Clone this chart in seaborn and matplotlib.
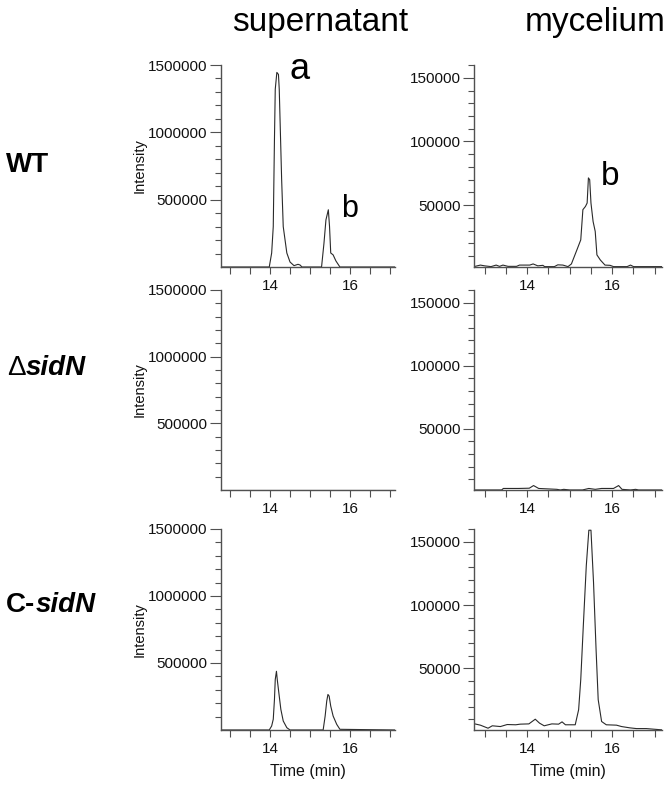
import numpy as np
import pandas as pd
import matplotlib
matplotlib.use("Agg")
import matplotlib.pyplot as plt
import seaborn as sns

# retention time (min) and intensity
wt_sup_time = [12.77, 13.98, 14.04, 14.08, 14.11, 14.13, 14.17, 14.21, 14.23, 14.29,
               14.33, 14.42, 14.50, 14.60, 14.70, 14.75, 14.80, 15.29, 15.35, 15.40,
               15.46, 15.49, 15.52, 15.58, 15.65, 15.75, 17.13]
wt_sup_int = [0, 0, 104000, 300000, 948000, 1320000, 1445000, 1430000, 1320000, 650000,
              300000, 104000, 37000, 10000, 20000, 15000, 0, 0, 175000, 350000,
              425000, 300000, 104000, 90000, 45000, 0, 0]

wt_myc_time = [12.75, 12.90, 13.00, 13.15, 13.27, 13.35, 13.43, 13.55, 13.75, 13.82,
               14.06, 14.14, 14.25, 14.37, 14.41, 14.64, 14.72, 14.84, 14.96, 15.04,
               15.17, 15.26, 15.31, 15.37, 15.41, 15.44, 15.47, 15.50, 15.55, 15.60,
               15.64, 15.72, 15.83, 15.95, 16.03, 16.35, 16.43, 16.50, 17.17]
wt_myc_int = [1800, 3000, 2400, 1800, 3000, 2000, 3000, 2000, 2000, 3000,
              3000, 3900, 2400, 2800, 1800, 1800, 3200, 3000, 1800, 3900,
              15000, 22800, 46500, 49000, 51700, 71400, 70000, 51700, 37200, 29400,
              11000, 7000, 3000, 2800, 1800, 1800, 3000, 1800, 1800]

ko_sup_time = [12.77, 14.0, 15.0, 16.0, 17.13]
ko_sup_int = [0, 0, 0, 0, 0]

ko_myc_time = [12.75, 13.40, 13.44, 13.80, 14.05, 14.15, 14.27, 14.70, 14.78, 14.86,
               15.00, 15.30, 15.45, 15.60, 15.75, 16.03, 16.15, 16.23, 16.43, 16.55,
               16.62, 17.17]
ko_myc_int = [1500, 1500, 2700, 2700, 2900, 5000, 2700, 2000, 1500, 2000,
              1500, 1500, 2700, 2000, 2700, 2700, 5000, 2000, 1500, 2000,
              1500, 1500]

c_sup_time = [12.77, 13.98, 14.04, 14.08, 14.11, 14.13, 14.16, 14.18, 14.22, 14.27,
              14.33, 14.42, 14.50, 15.33, 15.38, 15.42, 15.45, 15.48, 15.52, 15.58,
              15.67, 15.75, 17.13]
c_sup_int = [0, 0, 30000, 80000, 228000, 377000, 438000, 377000, 277000, 154000,
             67000, 17000, 0, 0, 104000, 216000, 265000, 253000, 178000, 104000,
             42000, 5000, 0]

c_myc_time = [12.77, 12.90, 13.08, 13.18, 13.37, 13.53, 13.73, 13.84, 14.04, 14.19,
              14.29, 14.40, 14.58, 14.74, 14.82, 14.90, 15.13, 15.21, 15.26, 15.32,
              15.39, 15.45, 15.50, 15.56, 15.62, 15.67, 15.75, 15.86, 16.10, 16.22,
              16.41, 16.57, 16.80, 17.17]
c_myc_int = [6300, 5300, 2900, 4800, 4200, 5800, 5600, 6100, 6300, 10000,
             6900, 4800, 6300, 6100, 7900, 5600, 5600, 17500, 41300, 83600,
             131000, 159000, 159000, 118000, 65000, 25400, 8200, 5600, 5300, 4200,
             3200, 2600, 2600, 1600]

col_titles = ["supernatant", "mycelium"]
x_tick_pos = [13.0, 13.5, 14.0, 14.5, 15.0, 15.5, 16.0, 16.5, 17.0]
x_tick_lab = ["", "", "14", "", "", "", "16", "", ""]

traces = [
    [(wt_sup_time, wt_sup_int), (wt_myc_time, wt_myc_int)],
    [(ko_sup_time, ko_sup_int), (ko_myc_time, ko_myc_int)],
    [(c_sup_time, c_sup_int), (c_myc_time, c_myc_int)],
]

sns.set_theme(style="ticks")
plt.rcParams["font.family"] = ["Liberation Sans", "DejaVu Sans"]
plt.rcParams["text.color"] = "black"
plt.rcParams["axes.labelcolor"] = "black"

AXC = "#505050"
LINEC = "#2a2a2a"
TXT = "#111111"

fig = plt.figure(figsize=(6.68, 7.89), dpi=100)

col_left = [0.3308, 0.7096]
col_width = [0.2605, 0.2814]
row_bottom = [0.6616, 0.3790, 0.0748]
row_height = [0.2560, 0.2535, 0.2548]

axes = []
for r in range(3):
    row_axes = []
    for c in range(2):
        ax = fig.add_axes([col_left[c], row_bottom[r], col_width[c], row_height[r]])
        t, y = traces[r][c]
        df = pd.DataFrame({"time": t, "intensity": y})
        sns.lineplot(data=df, x="time", y="intensity", ax=ax, color=LINEC,
                     linewidth=0.8, estimator=None, sort=False)

        if c == 0:
            ax.set_xlim(12.77, 17.13)
            ax.set_ylim(0, 1500000)
            ax.set_yticks([500000, 1000000, 1500000])
            ax.set_yticklabels(["500000", "1000000", "1500000"])
            ax.set_yticks(np.arange(100000, 1500001, 100000), minor=True)
            ax.set_ylabel("Intensity", fontsize=10.5, color=TXT)
            ax.yaxis.set_label_coords(-0.43, 0.5)
        else:
            ax.set_xlim(12.75, 17.17)
            ax.set_ylim(1500, 160000)
            ax.set_yticks([50000, 100000, 150000])
            ax.set_yticklabels(["50000", "100000", "150000"])
            ax.set_yticks(np.arange(10000, 160001, 10000), minor=True)
            ax.set_ylabel("")

        ax.set_xticks(x_tick_pos)
        ax.set_xticklabels(x_tick_lab)
        if r == 2:
            ax.set_xlabel("Time (min)", fontsize=11.5, color=TXT)
            ax.xaxis.set_label_coords(0.5, -0.17)
        else:
            ax.set_xlabel("")

        ax.spines[["top", "right"]].set_visible(False)
        for s in ["left", "bottom"]:
            ax.spines[s].set_color(AXC)
            ax.spines[s].set_linewidth(1.0)
        ax.tick_params(axis="y", which="major", length=8, width=0.8, color=AXC,
                       pad=1.5, labelsize=11, labelcolor=TXT)
        ax.tick_params(axis="y", which="minor", length=4.5, width=0.8, color=AXC)
        ax.tick_params(axis="x", which="major", length=5, width=0.8, color=AXC,
                       pad=4, labelsize=11, labelcolor=TXT)
        ax.set_facecolor("white")
        row_axes.append(ax)
    axes.append(row_axes)

# peak labels
axes[0][0].text(14.75, 1395000, "a", fontsize=26, ha="center", va="baseline", color="black")
axes[0][0].text(15.98, 375000, "b", fontsize=22, ha="center", va="baseline", color="black")
axes[0][1].text(15.95, 66000, "b", fontsize=24, ha="center", va="baseline", color="black")

# column titles
fig.text(0.479, 0.961, col_titles[0], fontsize=24, ha="center", va="baseline", color="black")
fig.text(0.8907, 0.961, col_titles[1], fontsize=24, ha="center", va="baseline", color="black")

# row labels
fig.text(0.009, 1 - 172 / 789, "WT", fontsize=20, weight="bold", va="baseline", color="black")
d1 = fig.text(0.011, 1 - 375 / 789, "\u0394", fontsize=20, va="baseline", color="black")
axes[1][0].annotate("sidN", xy=(1, 0), xycoords=d1, va="bottom", ha="left",
                    fontsize=20, weight="bold", style="italic", color="black")
c1 = fig.text(0.009, 1 - 612 / 789, "C-", fontsize=20, weight="bold", va="baseline",
              color="black")
axes[2][0].annotate("sidN", xy=(1, 0), xycoords=c1, va="bottom", ha="left",
                    fontsize=20, weight="bold", style="italic", color="black")

fig.savefig("out.png", dpi=100, facecolor="white")
